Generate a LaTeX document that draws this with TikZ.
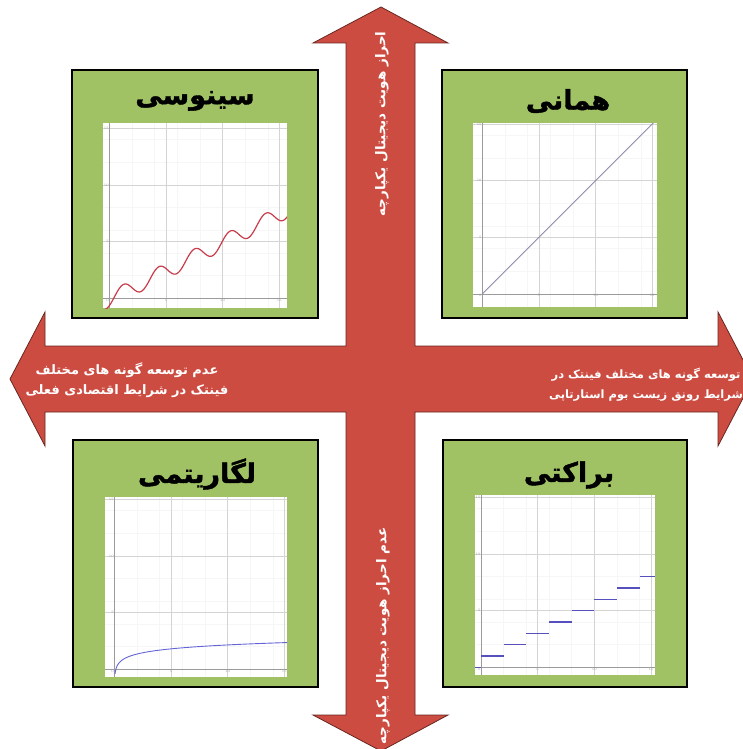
\documentclass[tikz,border=0pt]{standalone}
\usepackage{fontspec}
\newfontfamily\fa[Script=Arabic]{DejaVu Sans}
\newfontfamily\fab[Script=Arabic,FakeBold=1.5]{DejaVu Sans Bold}
\TeXXeTstate=1
\definecolor{arrowred}{RGB}{204,76,66}
\definecolor{arrowline}{RGB}{105,38,32}
\definecolor{boxgreen}{RGB}{160,194,101}
\definecolor{gridgray}{RGB}{212,212,212}
\definecolor{minorgray}{RGB}{246,246,246}
\definecolor{axisgray}{RGB}{155,155,155}
\definecolor{sinered}{RGB}{200,60,75}
\definecolor{logblue}{RGB}{100,100,215}
\definecolor{stairblue}{RGB}{85,80,190}
\definecolor{idgray}{RGB}{140,140,170}
\tikzset{
  bigarrow/.style={fill=arrowred, draw=arrowline, line width=0.8pt, line join=miter},
  panel/.style={fill=boxgreen, draw=black, line width=1.2pt},
  paneltitle/.style={font=\fab\fontsize{27}{30}\selectfont, text=black, inner sep=0pt},
  arrowtext/.style={text=white, inner sep=0pt, align=center},
  majorgrid/.style={draw=gridgray, line width=0.5pt},
  minorgrid/.style={draw=minorgray, line width=0.4pt},
  axisline/.style={draw=axisgray, line width=0.8pt},
  ticklabel/.style={font=\fontsize{3.5}{3.5}\selectfont, text=axisgray, inner sep=0.4pt}
}
\newcommand\plotframe[4]{%
  \fill[white] (#1,#3) rectangle (#2,#4);
  \foreach \g in {2,4,6,8,12,14} {
    \draw[minorgrid] (\g,#3) -- (\g,#4);
    \draw[minorgrid] (#1,\g) -- (#2,\g);
  }
  \foreach \g in {5,10,15} {
    \draw[majorgrid] (\g,#3) -- (\g,#4);
    \draw[majorgrid] (#1,\g) -- (#2,\g);
    \node[ticklabel, anchor=east] at (0,\g) {\g};
    \node[ticklabel, anchor=north] at (\g,0) {\g};
  }
  \draw[axisline] (0,#3) -- (0,#4);
  \draw[axisline] (#1,0) -- (#2,0);
  \node[ticklabel, anchor=north east] at (0,0) {0};
}
\begin{document}
\begin{tikzpicture}[x=1pt,y=-1pt]
\useasboundingbox (0,0) rectangle (743,749);
\fill[white] (0,0) rectangle (743,749);
\clip (0,0) rectangle (743,749);

% panels
\draw[panel] (72,70) rectangle (318,318);
\draw[panel] (442,70) rectangle (687,318);
\draw[panel] (73,440) rectangle (318,687);
\draw[panel] (443,440) rectangle (687,687);

\node[paneltitle] (tSin) at (195,101) {\beginR سینوسی\endR};
\node[paneltitle] (tId) at (568,101) {\beginR همانی\endR};
\node[paneltitle] (tLog) at (197,474) {\beginR لگاریتمی\endR};
\node[paneltitle] (tStep) at (569,475) {\beginR براکتی\endR};

% sine plot
\begin{scope}[shift={(109.3,298.3)}, x=11.33pt, y=11.33pt]
  \plotframe{-0.56}{15.7}{-0.86}{15.46}
  \begin{scope}
    \clip (-0.56,-0.86) rectangle (15.7,15.46);
    \draw[sinered, line width=1.2pt, smooth] plot[domain=-0.6:15.7, samples=200]
      (\x, {0.5*\x - 0.1 + 0.7*sin(deg(2*\x - 0.91))});
  \end{scope}
\end{scope}

% identity plot
\begin{scope}[shift={(482.2,294)}, x=11.33pt, y=11.33pt]
  \plotframe{-0.8}{15.4}{-1.15}{15.1}
  \draw[idgray, line width=0.8pt] (0,0) -- (15.1,15.1);
\end{scope}

% logarithmic plot
\begin{scope}[shift={(114.3,669.3)}, x=11.33pt, y=11.33pt]
  \plotframe{-0.82}{15.25}{-0.68}{15.23}
  \draw[logblue, line width=0.9pt, smooth] plot[domain=0.06:15.25, samples=160]
      (\x, {0.5*ln(\x) + 1});
\end{scope}

% bracket (step) plot
\begin{scope}[shift={(481,667.3)}, x=11.33pt, y=11.33pt]
  \plotframe{-0.53}{15.36}{-0.68}{15.2}
  \draw[stairblue, line width=1.2pt] (-0.53,0) -- (0,0);
  \foreach \k in {1,...,7} {
    \draw[stairblue, line width=1.2pt] ({2*\k-2},\k) -- ({2*\k},\k);
  }
  \draw[stairblue, line width=1.2pt] (14,8) -- (15.36,8);
\end{scope}

% cross arrow
\draw[bigarrow] (381,7) -- (448,43) -- (415,43) -- (415,346) -- (718,346) -- (718,312)
  -- (753,379) -- (718,446) -- (718,412) -- (415,412) -- (415,715) -- (448,715)
  -- (381,751) -- (313,715) -- (346,715) -- (346,412) -- (45,412) -- (45,446)
  -- (10,379) -- (45,312) -- (45,346) -- (346,346) -- (346,43) -- (313,43) -- cycle;

\node[arrowtext, rotate=90, font=\fa\bfseries\fontsize{13.5}{16}\selectfont] (aTop) at (382,124) {\beginR احراز هویت دیجیتال یکپارچه\endR};
\node[arrowtext, rotate=90, font=\fa\bfseries\fontsize{13.5}{16}\selectfont] (aBot) at (383,636) {\beginR عدم احراز هویت دیجیتال یکپارچه\endR};
\node[arrowtext, font=\fa\bfseries\fontsize{13}{20}\selectfont] (aLeft) at (127,380) {\beginR عدم توسعه گونه های مختلف\endR\\\beginR فینتک در شرایط اقتصادی فعلی\endR};
\node[arrowtext, font=\fa\bfseries\fontsize{11.5}{20}\selectfont] (aRight) at (646,385) {\beginR توسعه گونه های مختلف فینتک در\endR\\\beginR شرایط رونق زیست بوم استارتاپی\endR};
\end{tikzpicture}
\end{document}
